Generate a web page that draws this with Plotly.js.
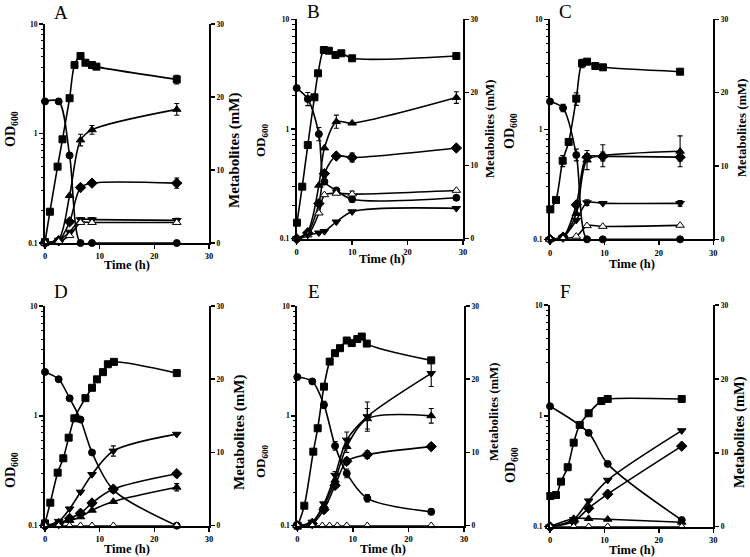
<!DOCTYPE html>
<html><head><meta charset="utf-8">
<script src="https://cdn.plot.ly/plotly-3.0.1.min.js"></script>
<style>html,body{margin:0;padding:0;background:#fff}</style>
</head><body><div id="chart" style="width:750px;height:557px"></div>
<script>
// ===== DATA =====
// Panel A
const A_od_t = [0, 0.9, 2.3, 3.2, 4.5, 5.4, 6.5, 7.4, 8.6, 9.4, 24.1];
const A_od   = [0.102, 0.193, 0.498, 0.885, 2.10, 4.22, 5.10, 4.43, 4.22, 4.08, 3.12];
const A_od_e = [0, 0, 0, 0, 0, 0, 0, 0, 0, 0, 0.28];
const A_glc_t = [0, 2.5, 4.5, 6.5, 8.6, 24.1];
const A_glc   = [19.4, 19.4, 12.0, 0, 0, 0];
const A_m_t  = [0, 2.5, 4.5, 6.5, 8.6, 24.1];
const A_tri  = [0, 0.5, 6.5, 14.1, 15.5, 18.3];
const A_tri_e = [0, 0, 0, 0.8, 0.6, 0.8];
const A_dia  = [0, 0.3, 2.9, 7.6, 8.2, 8.2];
const A_dia_e = [0, 0, 0, 0, 0, 0.7];
const A_tdn  = [0, 0.4, 1.5, 3.2, 3.2, 3.1];
const A_tdn_e = [0, 0, 0, 0.3, 0.3, 0.3];
const A_otri = [0, 0.2, 1.0, 2.8, 2.8, 2.8];

// Panel B
const B_od_t = [0.05, 1.0, 2.0, 3.2, 3.85, 4.9, 5.8, 7.0, 8.05, 10.0, 28.8];
const B_od   = [0.14, 0.298, 0.714, 1.945, 3.22, 5.25, 5.17, 4.73, 4.90, 4.41, 4.63];
const B_m_t  = [0, 2, 4, 5, 7.15, 10, 28.8];
const B_glc  = [20.6, 19.1, 14.3, 7.8, 6.6, 5.4, 5.6];
const B_glc_e = [0, 0.9, 0.9, 0, 0, 0.4, 0];
const B_tri  = [0, 1.0, 7.3, 12.4, 16.0, 15.8, 19.3];
const B_tri_e = [0, 0, 0, 0, 0.9, 0, 0.8];
const B_dia  = [0, 0.8, 4.8, 8.9, 11.3, 11.1, 12.4];
const B_dia_e = [0, 0, 0, 0.5, 0, 0.6, 0];
const B_otri = [0, 0.5, 3.5, 6.0, 6.2, 6.1, 6.6];
const B_otri_e = [0, 0, 0, 0, 0, 0.4, 0];
const B_tdn  = [0, 0.5, 0.8, 1.0, 2.3, 3.7, 4.15];

// Panel C
const C_od_t = [0.06, 1.1, 2.33, 3.43, 4.83, 5.88, 6.8, 8.33, 9.74, 23.9];
const C_od   = [0.187, 0.228, 0.518, 0.767, 1.90, 3.98, 4.12, 3.76, 3.66, 3.34];
const C_od_e = [0, 0, 0.06, 0, 0.25, 0.35, 0, 0, 0, 0.15];
const C_m_t  = [0, 2.4, 4.83, 6.8, 9.7, 23.9];
const C_glc  = [18.8, 17.9, 11.5, 0, 0, 0];
const C_glc_e = [0, 0.5, 0.8, 0, 0, 0];
const C_tri  = [0, 0.4, 3.5, 10.8, 11.4, 12.0];
const C_tri_e = [0, 0, 0, 1.3, 1.5, 2.1];
const C_dia  = [0, 0.3, 4.7, 11.2, 11.3, 11.2];
const C_dia_e = [0, 0, 0, 0.5, 0.6, 0.5];
const C_tdn  = [0, 0.3, 2.6, 5.0, 4.9, 4.9];
const C_tdn_e = [0, 0, 0, 0.4, 0, 0.4];
const C_otri = [0, 0.1, 0.4, 1.85, 1.75, 1.9];

// Panel D
const D_od_t = [0, 0.97, 2.32, 3.35, 4.33, 5.37, 7.4, 8.6, 9.5, 10.6, 11.5, 12.6, 24.1];
const D_od   = [0.105, 0.162, 0.304, 0.411, 0.633, 0.95, 1.45, 1.8, 2.15, 2.5, 2.95, 3.1, 2.45];
const D_m_t  = [0, 2.5, 4.5, 6.5, 8.6, 12.5, 24.1];
const D_glc  = [21.0, 20.0, 17.4, 14.5, 10.0, 4.9, 0];
const D_tdn  = [0, 0.6, 2.3, 4.6, 7.0, 10.2, 12.5];
const D_tdn_e = [0, 0, 0, 0, 0, 0.7, 0];
const D_dia  = [0, 0.3, 1.0, 1.7, 3.1, 5.0, 7.1];
const D_tri  = [0, 0.3, 0.7, 1.2, 2.1, 3.3, 5.25];
const D_tri_e = [0, 0, 0, 0, 0, 0, 0.5];
const D_otri = [0, 0, 0, 0, 0, 0, 0];

// Panel E
const E_od_t = [0.07, 1.26, 2.88, 3.67, 4.8, 5.83, 6.78, 7.68, 8.9, 9.8, 10.8, 11.6, 12.5, 24.1];
const E_od   = [0.1, 0.152, 0.472, 0.771, 1.845, 3.12, 3.72, 4.13, 4.85, 4.6, 5.0, 5.27, 4.55, 3.2];
const E_m_t  = [0, 2.7, 4.8, 6.8, 8.9, 12.6, 24.1];
const E_glc  = [20.3, 19.7, 16.5, 10.9, 7.15, 3.74, 1.9];
const E_glc_e = [0, 0, 0.5, 0.6, 0.6, 0.5, 0.4];
const E_tdn  = [0, 0.5, 3.0, 6.9, 11.7, 14.9, 20.8];
const E_tdn_e = [0, 0, 0, 0.5, 1.1, 2.0, 1.8];
const E_tri  = [0, 0.5, 2.7, 6.2, 10.8, 14.6, 15.0];
const E_tri_e = [0, 0, 0, 0, 0.8, 1.4, 1.0];
const E_dia  = [0, 0.3, 2.2, 5.5, 8.8, 9.7, 10.8];
const E_dia_e = [0, 0, 0, 0, 0.4, 0.5, 0.4];
const E_otri_t = [0, 2.7, 4.5, 5.8, 7.2, 8.9, 12.6, 24.1];
const E_otri = [0, 0, 0, 0, 0, 0, 0, 0];

// Panel F
const F_od_t = [0.06, 1.1, 2.02, 3.25, 4.35, 5.46, 7.1, 9.43, 10.6, 24.2];
const F_od   = [0.189, 0.193, 0.255, 0.344, 0.573, 0.828, 1.055, 1.36, 1.42, 1.42];
const F_glc_t = [0, 7.1, 10.6, 24.2];
const F_glc  = [16.3, 12.7, 8.5, 0.9];
const F_m_t  = [0, 4.35, 7.1, 10.6, 24.2];
const F_tdn  = [0, 1.0, 3.5, 6.3, 13.0];
const F_dia  = [0, 0.7, 2.5, 4.4, 10.9];
const F_tri  = [0, 1.1, 1.1, 1.0, 0.6];
const F_otri = [0, 0, 0, 0, 0];

// Tick labels
const xTicks = [0, 10, 20, 30];
const odTicks = [0.1, 1, 10];
const odTickText = ['0.1', '1', '10'];
const odMinor = [0.2,0.3,0.4,0.5,0.6,0.7,0.8,0.9,2,3,4,5,6,7,8,9];
const mTicks = [0, 10, 20, 30];
const letters = ['A','B','C','D','E','F'];

// ===== series per panel =====
const panelsData = [
  [ {k:'od', t:A_od_t, v:A_od, e:A_od_e}, {k:'glc', t:A_glc_t, v:A_glc},
    {k:'tri', t:A_m_t, v:A_tri, e:A_tri_e}, {k:'dia', t:A_m_t, v:A_dia, e:A_dia_e},
    {k:'tdn', t:A_m_t, v:A_tdn, e:A_tdn_e}, {k:'otri', t:A_m_t, v:A_otri} ],
  [ {k:'od', t:B_od_t, v:B_od}, {k:'glc', t:B_m_t, v:B_glc, e:B_glc_e},
    {k:'tri', t:B_m_t, v:B_tri, e:B_tri_e}, {k:'dia', t:B_m_t, v:B_dia, e:B_dia_e},
    {k:'otri', t:B_m_t, v:B_otri, e:B_otri_e}, {k:'tdn', t:B_m_t, v:B_tdn} ],
  [ {k:'od', t:C_od_t, v:C_od, e:C_od_e}, {k:'glc', t:C_m_t, v:C_glc, e:C_glc_e},
    {k:'tri', t:C_m_t, v:C_tri, e:C_tri_e}, {k:'dia', t:C_m_t, v:C_dia, e:C_dia_e},
    {k:'tdn', t:C_m_t, v:C_tdn, e:C_tdn_e}, {k:'otri', t:C_m_t, v:C_otri} ],
  [ {k:'od', t:D_od_t, v:D_od}, {k:'glc', t:D_m_t, v:D_glc},
    {k:'tdn', t:D_m_t, v:D_tdn, e:D_tdn_e}, {k:'dia', t:D_m_t, v:D_dia},
    {k:'tri', t:D_m_t, v:D_tri, e:D_tri_e}, {k:'otri', t:D_m_t, v:D_otri} ],
  [ {k:'od', t:E_od_t, v:E_od}, {k:'glc', t:E_m_t, v:E_glc, e:E_glc_e},
    {k:'tdn', t:E_m_t, v:E_tdn, e:E_tdn_e}, {k:'tri', t:E_m_t, v:E_tri, e:E_tri_e},
    {k:'dia', t:E_m_t, v:E_dia, e:E_dia_e}, {k:'otri', t:E_otri_t, v:E_otri} ],
  [ {k:'od', t:F_od_t, v:F_od}, {k:'glc', t:F_glc_t, v:F_glc},
    {k:'tdn', t:F_m_t, v:F_tdn}, {k:'dia', t:F_m_t, v:F_dia},
    {k:'tri', t:F_m_t, v:F_tri}, {k:'otri', t:F_m_t, v:F_otri} ]
];

// ===== layout geometry (pixels) =====
const W = 750, H = 557;
const geom = [
  {x:[45,209],    y:[24,243],    L:[61,12],  od:[11,129],  met:[234,151], tm:[127,265], odS:14, metS:15},
  {x:[296.7,463], y:[19.3,238.7],L:[313,11], od:[261,140], met:[490,129], tm:[382,259], odS:13, metS:12.8},
  {x:[550,713.3], y:[19.3,239.3],L:[565,11], od:[511,131], met:[742,128], tm:[632,264], odS:14, metS:12.8},
  {x:[45,209],    y:[306,525.7], L:[61,291], od:[11,470],  met:[239,433], tm:[127,549], odS:14, metS:15},
  {x:[297.3,464], y:[306,525.7], L:[314,291],od:[261,461], met:[494,412], tm:[383,549], odS:13, metS:12.8},
  {x:[550,713.3], y:[305,526.7], L:[565,291],od:[511,465], met:[740,432], tm:[632,550], odS:14, metS:14.5}
];

const STY = {
  od:   {symbol:'square', size:7, color:'black'},
  glc:  {symbol:'circle', size:7, color:'black'},
  tri:  {symbol:'triangle-up', size:7.5, color:'black'},
  dia:  {symbol:'diamond', size:8, color:'black'},
  tdn:  {symbol:'triangle-down', size:7.5, color:'black'},
  otri: {symbol:'triangle-up', size:7.5, color:'white'}
};

const SERIF = '"Liberation Serif", "Times New Roman", Times, serif';
const tickFont = {family:SERIF, size:8, color:'black', weight:'bold'};

const traces = [];
const layout = {
  width:W, height:H, margin:{l:0,r:0,t:0,b:0},
  paper_bgcolor:'white', plot_bgcolor:'rgba(0,0,0,0)',
  font:{family:SERIF, color:'black'},
  showlegend:false, annotations:[]
};

const px2x = p => p / W;
const px2y = p => 1 - p / H;

geom.forEach((g, i) => {
  const n = i + 1;
  const xa = n === 1 ? 'x' : 'x' + n;
  const yl = (2*n - 1) === 1 ? 'y' : 'y' + (2*n - 1);
  const yr = 'y' + (2*n);
  const xKey = n === 1 ? 'xaxis' : 'xaxis' + n;
  const ylKey = (2*n - 1) === 1 ? 'yaxis' : 'yaxis' + (2*n - 1);
  const yrKey = 'yaxis' + (2*n);
  const xd = [px2x(g.x[0]), px2x(g.x[1])];
  const yd = [px2y(g.y[1]), px2y(g.y[0])];

  layout[xKey] = {
    domain:xd, anchor:yl, range:[0,30], tickvals:xTicks, ticks:'outside',
    ticklen:4, tickwidth:1.5, tickcolor:'black', showline:true, linewidth:2, linecolor:'black',
    showgrid:false, zeroline:false, tickfont:{...tickFont, size:8.5}, fixedrange:true
  };
  layout[ylKey] = {
    domain:yd, anchor:xa, type:'log', range:[-1,1], tickvals:odTicks, ticktext:odTickText,
    ticks:'outside', ticklen:4, tickwidth:1.5, tickcolor:'black', showline:true, linewidth:2,
    linecolor:'black', showgrid:false, zeroline:false, tickfont:{...tickFont, size:7.5},
    minor:{tickvals:odMinor, ticks:'outside', ticklen:2.5, tickwidth:1, tickcolor:'black', showgrid:false}
  };
  layout[yrKey] = {
    overlaying:yl, anchor:xa, side:'right', range:[0,30], tickvals:mTicks, ticks:'outside',
    ticklen:4, tickwidth:1.5, tickcolor:'black', showline:true, linewidth:2, linecolor:'black',
    showgrid:false, zeroline:false, tickfont:{...tickFont, size:7.5}
  };

  const series = panelsData[i];
  series.forEach(s => {
    traces.push({
      type:'scatter', mode:'lines', x:s.t, y:s.v, xaxis:xa, yaxis: s.k === 'od' ? yl : yr,
      line:{shape:'spline', smoothing:0.85, color:'black', width:1.6}, hoverinfo:'skip'
    });
  });
  series.forEach(s => {
    const st = STY[s.k];
    const tr = {
      type:'scatter', mode:'markers', x:s.t, y:s.v, xaxis:xa, yaxis: s.k === 'od' ? yl : yr,
      cliponaxis:false,
      marker:{symbol:st.symbol, size:st.size, color:st.color, line:{color:'black', width:1}}
    };
    if (s.e) tr.error_y = {type:'data', array:s.e, visible:true, color:'black', thickness:1.1, width:2.5};
    traces.push(tr);
  });

  layout.annotations.push({
    text:letters[i], x:px2x(g.L[0]), y:px2y(g.L[1]), xref:'paper', yref:'paper',
    showarrow:false, xanchor:'center', yanchor:'middle',
    font:{family:SERIF, size:19, color:'black'}
  });
  layout.annotations.push({
    text:'<b>OD<sub>600</sub></b>', x:px2x(g.od[0]), y:px2y(g.od[1]), xref:'paper', yref:'paper',
    showarrow:false, xanchor:'center', yanchor:'middle', textangle:-90,
    font:{family:SERIF, size:g.odS, color:'black'}
  });
  layout.annotations.push({
    text:'<b>Metabolites (mM)</b>', x:px2x(g.met[0]), y:px2y(g.met[1]), xref:'paper', yref:'paper',
    showarrow:false, xanchor:'center', yanchor:'middle', textangle:-90,
    font:{family:SERIF, size:g.metS, color:'black'}
  });
  layout.annotations.push({
    text:'<b>Time (h)</b>', x:px2x(g.tm[0]), y:px2y(g.tm[1]), xref:'paper', yref:'paper',
    showarrow:false, xanchor:'center', yanchor:'middle',
    font:{family:SERIF, size:12.5, color:'black'}
  });
});

Plotly.newPlot('chart', traces, layout, {staticPlot:true, displayModeBar:false});
</script>
</body></html>
